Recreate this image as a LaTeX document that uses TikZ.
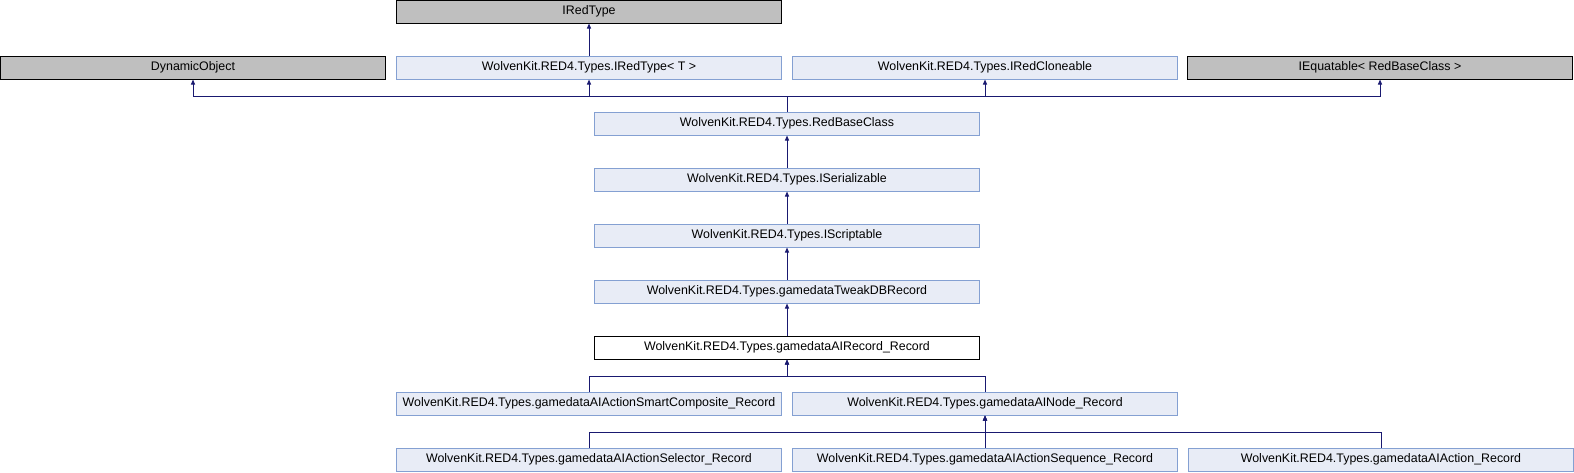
\documentclass[tikz,border=0pt]{standalone}
\usepackage{fontspec}
\setmainfont{Liberation Sans}
\usetikzlibrary{arrows.meta}
\definecolor{extfill}{HTML}{BFBFBF}
\definecolor{clsfill}{HTML}{E8ECF6}
\definecolor{clsdraw}{HTML}{84A0D2}
\definecolor{edgeblue}{HTML}{191970}
\begin{document}
\begin{tikzpicture}[x=1pt, y=-1pt,
    box/.style={minimum width=385pt, minimum height=23pt, inner sep=0pt, line width=1pt, font=\fontsize{12.4}{14}\selectfont},
    ext/.style={box, draw=black, fill=extfill},
    cls/.style={box, draw=clsdraw, fill=clsfill},
    cur/.style={box, draw=black, fill=white},
    inh/.style={draw=edgeblue, line width=1pt, -{Triangle[length=5pt, width=4pt]}}]
    \useasboundingbox (0,0) rectangle (1574,472);

    % Bases externes
    \node[ext] (iredtype) at (589,11.5) {IRedType};
    \node[ext] (dynobj) at (193,67.5) {DynamicObject};
    \node[cls] (iredtypet) at (589,67.5) {WolvenKit.RED4.Types.IRedType< T >};
    \node[cls] (cloneable) at (985,67.5) {WolvenKit.RED4.Types.IRedCloneable};
    \node[ext] (equatable) at (1380,67.5) {IEquatable< RedBaseClass >};

    % Chaine principale
    \node[cls] (redbase) at (787,123.5) {WolvenKit.RED4.Types.RedBaseClass};
    \node[cls] (iserial) at (787,179.5) {WolvenKit.RED4.Types.ISerializable};
    \node[cls] (iscript) at (787,235.5) {WolvenKit.RED4.Types.IScriptable};
    \node[cls] (tweakdb) at (787,291.5) {WolvenKit.RED4.Types.gamedataTweakDBRecord};
    \node[cur] (airecord) at (787,347.5) {WolvenKit.RED4.Types.gamedataAIRecord\_Record};

    % Classes derivees
    \node[cls] (smartcomp) at (589,403.5) {WolvenKit.RED4.Types.gamedataAIActionSmartComposite\_Record};
    \node[cls] (ainode) at (985,403.5) {WolvenKit.RED4.Types.gamedataAINode\_Record};
    \node[cls] (selector) at (589,459.5) {WolvenKit.RED4.Types.gamedataAIActionSelector\_Record};
    \node[cls] (sequence) at (985,459.5) {WolvenKit.RED4.Types.gamedataAIActionSequence\_Record};
    \node[cls] (aiaction) at (1381,459.5) {WolvenKit.RED4.Types.gamedataAIAction\_Record};

    % Fleches d'heritage
    \draw[inh] (iredtypet) -- (iredtype);
    \coordinate (bustop) at (787,96);
    \foreach \base in {dynobj, iredtypet, cloneable, equatable}
        \draw[inh] (redbase.north) -- (bustop) -| (\base.south);
    \draw[inh] (iserial) -- (redbase);
    \draw[inh] (iscript) -- (iserial);
    \draw[inh] (tweakdb) -- (iscript);
    \draw[inh] (airecord) -- (tweakdb);
    \coordinate (busmid) at (787,376);
    \foreach \child in {smartcomp, ainode}
        \draw[inh] (\child.north) |- (busmid) -- (airecord.south);
    \coordinate (buslow) at (985,432);
    \foreach \child in {selector, sequence, aiaction}
        \draw[inh] (\child.north) |- (buslow) -- (ainode.south);
\end{tikzpicture}
\end{document}
